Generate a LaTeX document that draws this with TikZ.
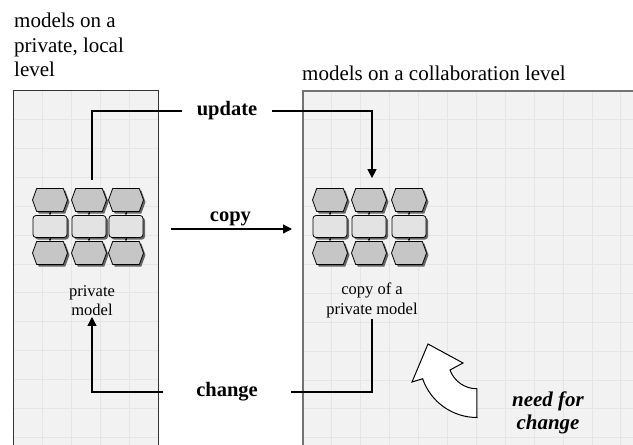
\documentclass[tikz,border=0pt]{standalone}
\usepackage{fontspec}
\setmainfont{Liberation Serif}
\usetikzlibrary{arrows.meta,calc,positioning,shapes.symbols,shadows}

\begin{document}
\begin{tikzpicture}[x=1pt,y=-1pt,node distance=26.5pt,
    conn/.style={line width=1.3pt},
    tip/.style={-{Triangle[width=9pt,length=9pt]}},
    panel/.style={rectangle,fill=gray!10,inner sep=0pt,anchor=north west,
      path picture={
        \foreach \k in {1,...,13}{
          \draw[gray!20,line width=0.5pt] ([xshift=\k*28.9pt]path picture bounding box.north west)
            -- ([xshift=\k*28.9pt]path picture bounding box.south west);
          \draw[gray!20,line width=0.5pt] ([yshift=-\k*28.9pt]path picture bounding box.north west)
            -- ([yshift=-\k*28.9pt]path picture bounding box.north east);
        }}},
    shadowed/.style={drop shadow={shadow xshift=2pt,shadow yshift=-2pt,fill=black!60,opacity=1}},
    event/.style={signal,signal to=east and west,signal pointer angle=140,draw,line width=0.8pt,
      fill=gray!45,minimum width=35pt,minimum height=23pt,inner sep=0pt,shadowed},
    func/.style={rectangle,rounded corners=3pt,draw,line width=0.8pt,fill=gray!22,
      minimum width=34pt,minimum height=22pt,inner sep=0pt,shadowed},
    flow/.style={-{Stealth[length=2.5pt,width=2.5pt]},line width=0.5pt},
    title/.style={font=\fontsize{21}{24.5}\selectfont,align=left,inner sep=0pt},
    caption/.style={font=\fontsize{16.5}{19.5}\selectfont,align=center,inner sep=1pt},
    action/.style={font=\fontsize{20.5}{24}\selectfont\bfseries,inner ysep=0pt}]

  \useasboundingbox (0,0) rectangle (633,445);
  \clip (0,0) rectangle (633,445);

  % the two levels
  \node[panel,draw=black!80,line width=0.8pt,minimum width=145pt,minimum height=370pt] (lpanel) at (13,90) {};
  \node[panel,draw=black!55,line width=1.5pt,minimum width=345pt,minimum height=370pt] (rpanel) at (302,90) {};

  \node[title,anchor=north west] (ltitle) at (14,13) {models on a\\private, local\\level};
  \node[title,anchor=base west] (rtitle) at (302,80) {models on a collaboration level};

  % private model
  \foreach \c/\x in {1/50,2/89,3/126}{
    \node[event] (lt\c) at (\x,200) {};
    \node[func] (lf\c) [below of=lt\c] {};
    \node[event] (lb\c) [below of=lf\c] {};
    \draw[flow] (lt\c) -- (lf\c);
    \draw[flow] (lf\c) -- (lb\c);
  }
  \node[caption,anchor=north] (llabel) at (92,284) {private\\model};

  % copy of the private model
  \foreach \c/\x in {1/330,2/369,3/409}{
    \node[event] (rt\c) at (\x,200) {};
    \node[func] (rf\c) [below of=rt\c] {};
    \node[event] (rb\c) [below of=rf\c] {};
    \draw[flow] (rt\c) -- (rf\c);
    \draw[flow] (rf\c) -- (rb\c);
  }
  \node[caption,anchor=north] (rlabel) at (372,282) {copy of a\\private model};

  % update
  \node[action,inner xsep=15pt] (update) at (227,111) {update};
  \draw[conn,shorten <=8pt] (lt2.north -| llabel) |- (update.west);
  \draw[conn,tip,shorten >=10pt] (update.east) -| (rt2.north -| rlabel);

  % copy
  \draw[conn,tip,shorten <=12pt,shorten >=10pt] ([yshift=-2.5pt]lpanel.east |- lf3) -- ([yshift=-2.5pt]rpanel.west |- rf1)
    node[action,midway,above=2pt] (copy) {copy};

  % change
  \node[action,inner xsep=33pt] (change) at (227,392) {change};
  \draw[conn] (rlabel.south) |- (change.east);
  \draw[conn,tip] (change.west) -| (llabel.south);

  % need for change
  \draw[line width=1pt,fill=white] (428,344) -- (463,363) -- (450,370)
    arc[start angle=160,end angle=90,radius=28.5] -- (477,417.5)
    arc[start angle=90,end angle=161,radius=57.5] -- (412,382) -- cycle;
  \node[font=\fontsize{21}{23}\selectfont\bfseries\itshape,align=center,inner sep=0pt,anchor=north]
    (need) at (548,392) {need for\\change};
\end{tikzpicture}
\end{document}
